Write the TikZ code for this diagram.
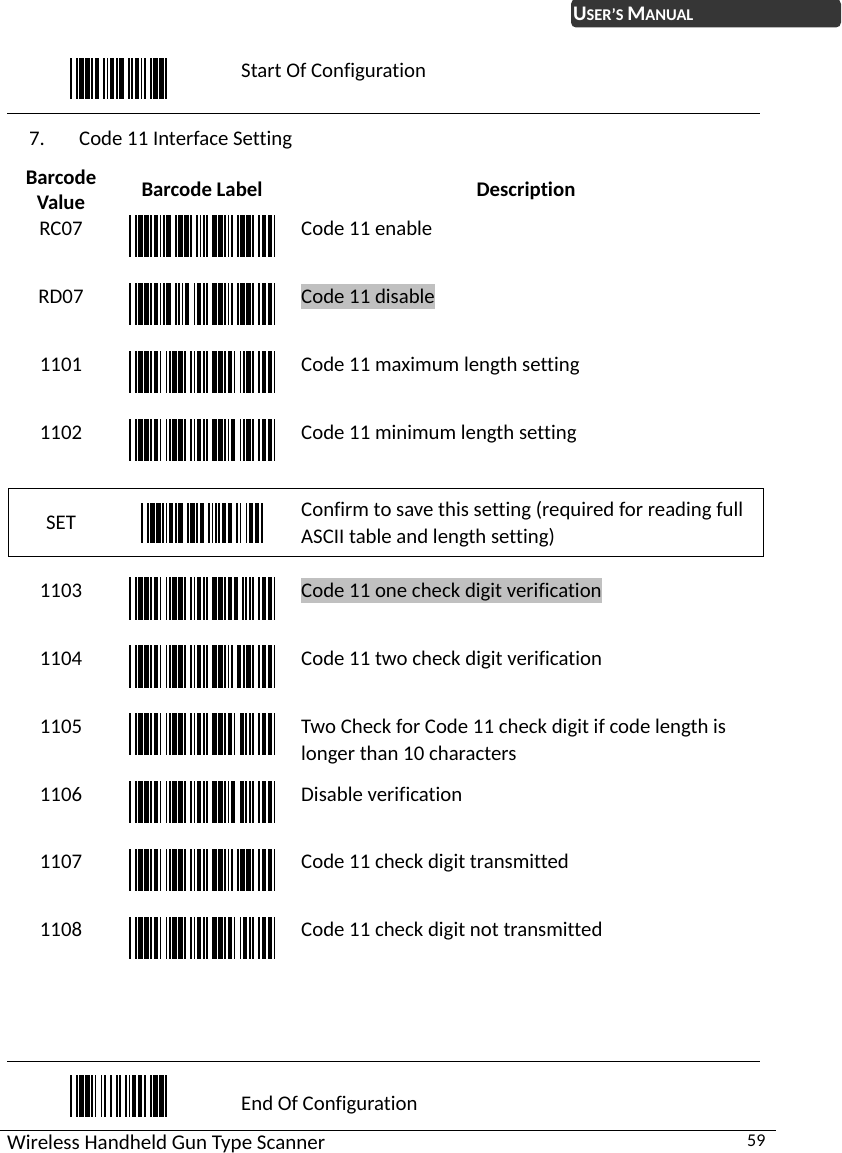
\documentclass[tikz,border=0pt]{standalone}
\usepackage{fontspec}
\usepackage{tikz}
\setmainfont{Carlito}[Ligatures=NoCommon]
\definecolor{hlgray}{HTML}{C0C0C0}
\definecolor{tabgray}{HTML}{363636}
\newcommand{\cellfont}{\fontsize{20.8}{27}\selectfont}
\tikzstyle{txt}=[anchor=base west, inner sep=0pt, align=left, font=\cellfont]
\tikzstyle{val}=[anchor=base, inner sep=0pt, align=center, font=\cellfont]
\tikzstyle{head}=[anchor=base, inner sep=0pt, align=center, font=\cellfont\bfseries]
\tikzstyle{hilite}=[txt, fill=hlgray, text height=19.5pt, text depth=5.5pt]
\tikzstyle{rule}=[draw=black, line width=1pt]
% bars and spaces of one sign, 1 is a wide element
\newcommand{\defsign}[2]{\expandafter\def\csname sign#1\endcsname{#2}}
\defsign{*}{0,1,0,0,1,0,1,0,0}
\defsign{.}{1,1,0,0,0,0,1,0,0}
\defsign{+}{0,1,0,0,0,1,0,1,0}
\defsign{-}{0,1,0,0,0,0,1,0,1}
\defsign{0}{0,0,0,1,1,0,1,0,0}
\defsign{1}{1,0,0,1,0,0,0,0,1}
\defsign{2}{0,0,1,1,0,0,0,0,1}
\defsign{3}{1,0,1,1,0,0,0,0,0}
\defsign{4}{0,0,0,1,1,0,0,0,1}
\defsign{5}{1,0,0,1,1,0,0,0,0}
\defsign{6}{0,0,1,1,1,0,0,0,0}
\defsign{7}{0,0,0,1,0,0,1,0,1}
\defsign{8}{1,0,0,1,0,0,1,0,0}
\defsign{C}{1,0,1,0,0,1,0,0,0}
\defsign{D}{0,0,0,0,1,1,0,0,1}
\defsign{E}{1,0,0,0,1,1,0,0,0}
\defsign{R}{1,0,0,0,0,0,1,1,0}
\defsign{S}{0,0,1,0,0,0,1,1,0}
\defsign{T}{0,0,0,0,1,0,1,1,0}
% left, top, bottom, signs
\newcommand{\barcode}[4]{%
  \xdef\barpos{#1}%
  \foreach \ch in {#4}{%
    \expandafter\let\expandafter\curbars\csname sign\ch\endcsname
    \foreach \el [count=\k] in \curbars{%
      \pgfmathsetmacro\barend{\barpos+1.7+2.55*\el}%
      \ifodd\k \fill (\barpos,#2) rectangle (\barend,#3);\fi
      \global\let\barpos\barend
    }%
    \pgfmathsetmacro\barend{\barpos+1.7}%
    \global\let\barpos\barend
  }%
}

\begin{document}
\begin{tikzpicture}[x=1pt, y=-1pt]
    \useasboundingbox (0,0) rectangle (841,1153);
    % header tab
    \fill[tabgray, rounded corners=5pt] (571,-1) rectangle (841,27.5);
    \node[anchor=base west, inner sep=0pt, text=white, font=\bfseries] (tab) at (573,20.8)
        {\fontsize{20.7}{22}\selectfont U\fontsize{16.4}{22}\selectfont SER’S \fontsize{20.7}{22}\selectfont M\fontsize{16.4}{22}\selectfont ANUAL};

    % start of configuration
    \barcode{70}{58}{99}{*,.,.,*}
    \node[txt] (start) at (241, 78) {Start Of Configuration};
    \draw[rule] (7,113.5) -- (760,113.5);
    \node[txt] (num)   at (29,  145)  {7.};
    \node[txt] (title) at (79,  145)  {Code 11 Interface Setting};

    % table head
    \node[head] (hval)  at (61,  209)   {Barcode\\[-2pt]Value};
    \node[head] (hlab)  at (202, 196.5) {Barcode Label};
    \node[head] (hdesc) at (526, 196.5) {Description};

    % table rows
    \node[val] (v1) at (61, 235) {RC07};
    \barcode{129}{215}{257}{*,R,C,0,7,*}
    \node[txt] (d1) at (301, 235) {Code 11 enable};

    \node[val] (v2) at (61, 303) {RD07};
    \barcode{129}{283}{325}{*,R,D,0,7,*}
    \node[hilite] (d2) at (301, 303.5) {Code 11 disable};

    \node[val] (v3) at (61, 371) {1101};
    \barcode{129}{351}{393}{*,1,1,0,1,*}
    \node[txt] (d3) at (301, 371) {Code 11 maximum length setting};

    \node[val] (v4) at (61, 439) {1102};
    \barcode{129}{419}{461}{*,1,1,0,2,*}
    \node[txt] (d4) at (301, 439) {Code 11 minimum length setting};

    % boxed row
    \draw[line width=1pt] (8.5,488) rectangle (763,556);
    \node[val] (v5) at (61, 529) {SET};
    \barcode{141}{503}{543}{*,S,E,T,*}
    \node[txt] (d5) at (301, 543) {Confirm to save this setting (required for reading full\\ASCII table and length setting)};

    \node[val] (v6) at (61, 597.5) {1103};
    \barcode{129}{577}{620}{*,1,1,0,3,*}
    \node[hilite] (d6) at (301, 597.5) {Code 11 one check digit verification};

    \node[val] (v7) at (61, 665.5) {1104};
    \barcode{129}{645}{688}{*,1,1,0,4,*}
    \node[txt] (d7) at (301, 665.5) {Code 11 two check digit verification};

    \node[val] (v8) at (61, 733.5) {1105};
    \barcode{129}{713}{755}{*,1,1,0,5,*}
    \node[txt] (d8) at (301, 760) {Two Check for Code 11 check digit if code length is\\longer than 10 characters};

    \node[val] (v9) at (61, 801) {1106};
    \barcode{129}{781}{823}{*,1,1,0,6,*}
    \node[txt] (d9) at (301, 801) {Disable verification};

    \node[val] (v10) at (61, 868) {1107};
    \barcode{129}{849}{891}{*,1,1,0,7,*}
    \node[txt] (d10) at (301, 868) {Code 11 check digit transmitted};

    \node[val] (v11) at (61, 936) {1108};
    \barcode{129}{917}{959}{*,1,1,0,8,*}
    \node[txt] (d11) at (301, 936) {Code 11 check digit not transmitted};

    % end of configuration
    \draw[rule] (7,1061.5) -- (760,1061.5);
    \barcode{70}{1075}{1117}{*,+,-,*}
    \node[txt] (end) at (241, 1110) {End Of Configuration};

    % footer
    \draw[rule] (0,1130.5) -- (776,1130.5);
    \node[txt] (foot) at (7, 1149) {\fontsize{21}{24}\selectfont Wireless Handheld Gun Type Scanner};
    \node[txt] (page) at (747, 1146.5) {\fontsize{18}{20}\selectfont 59};
\end{tikzpicture}
\end{document}
